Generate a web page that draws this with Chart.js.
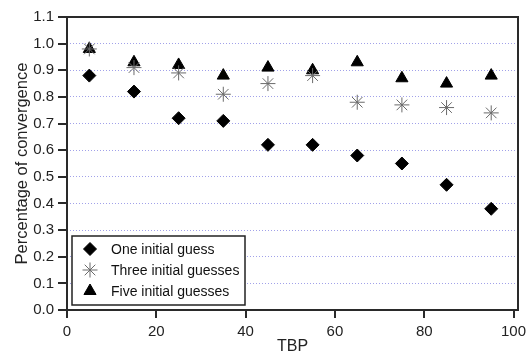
<!DOCTYPE html>
<html>
<head>
<meta charset="utf-8">
<script src="https://cdn.jsdelivr.net/npm/chart.js@4/dist/chart.umd.min.js"></script>
<style>
  html, body { margin: 0; padding: 0; background: #fff; }
  #wrap { width: 532px; height: 354px; }
</style>
</head>
<body>
<div id="wrap"><canvas id="conv" width="532" height="354"></canvas></div>
<script>
// TBP values and convergence rates per number of initial guesses
const tbp = [5, 15, 25, 35, 45, 55, 65, 75, 85, 95];
const oneGuess = [0.88, 0.82, 0.72, 0.71, 0.62, 0.62, 0.58, 0.55, 0.47, 0.38];
const threeGuesses = [0.98, 0.91, 0.89, 0.81, 0.85, 0.88, 0.78, 0.77, 0.76, 0.74];
const fiveGuesses = [0.98, 0.93, 0.92, 0.88, 0.91, 0.90, 0.93, 0.87, 0.85, 0.88];
const seriesNames = ['One initial guess', 'Three initial guesses', 'Five initial guesses'];
const xTicks = [0, 20, 40, 60, 80, 100];

const FONT = '"Liberation Sans", Arial, sans-serif';
const X_TICK_LEN = 8;
const Y_TICK_LEN = 9;

function toPoints(vals) {
    return vals.map(function(v, i) {
        return { x: tbp[i], y: v };
    });
}

// Frame round the plot area, outward tick marks and the boxed legend
const frameAndLegend = {
    id: 'frameAndLegend',
    afterDraw(chart) {
        const ctx = chart.ctx;
        const a = chart.chartArea;
        const xs = chart.scales.x;
        const ys = chart.scales.y;
        ctx.save();
        ctx.strokeStyle = '#2a2a2a';
        ctx.lineWidth = 2;
        ctx.strokeRect(a.left, a.top, a.right - a.left, a.bottom - a.top);

        // tick marks pointing out of the plot
        ctx.beginPath();
        xs.ticks.forEach(function(t) {
            const px = Math.round(xs.getPixelForValue(t.value));
            ctx.moveTo(px, a.bottom);
            ctx.lineTo(px, a.bottom + X_TICK_LEN);
        });
        ys.ticks.forEach(function(t) {
            const py = Math.round(ys.getPixelForValue(t.value));
            ctx.moveTo(a.left, py);
            ctx.lineTo(a.left - Y_TICK_LEN, py);
        });
        ctx.stroke();

        // legend box
        const bx = 72, by = 236, bw = 173, bh = 69;
        ctx.fillStyle = '#fff';
        ctx.fillRect(bx, by, bw, bh);
        ctx.lineWidth = 1.5;
        ctx.strokeStyle = '#222';
        ctx.strokeRect(bx, by, bw, bh);

        ctx.font = '14px ' + FONT;
        ctx.textBaseline = 'middle';
        ctx.textAlign = 'left';
        chart.data.datasets.forEach(function(ds, i) {
            const y = by + 13 + i * 21;
            ctx.save();
            ctx.fillStyle = ds.backgroundColor;
            ctx.strokeStyle = ds.borderColor;
            ctx.lineWidth = ds.borderWidth;
            Chart.helpers.drawPoint(ctx, {
                pointStyle: ds.pointStyle,
                radius: ds.pointRadius,
                borderWidth: ds.borderWidth,
                rotation: 0
            }, 90, y);
            ctx.restore();
            ctx.fillStyle = '#111';
            ctx.fillText(ds.label, 111, y + 1);
        });
        ctx.restore();
    }
};

const config = {
    type: 'scatter',
    data: {
        datasets: [
            {
                label: seriesNames[0],
                data: toPoints(oneGuess),
                pointStyle: 'rectRot',
                pointRadius: 6.5,
                backgroundColor: '#000',
                borderColor: '#000',
                borderWidth: 1,
                order: 3
            },
            {
                label: seriesNames[1],
                data: toPoints(threeGuesses),
                pointStyle: 'star',
                pointRadius: 7.5,
                backgroundColor: '#777',
                borderColor: '#6a6a6a',
                borderWidth: 1,
                order: 1
            },
            {
                label: seriesNames[2],
                data: toPoints(fiveGuesses),
                pointStyle: 'triangle',
                pointRadius: 7,
                backgroundColor: '#000',
                borderColor: '#000',
                borderWidth: 1,
                order: 2
            }
        ]
    },
    options: {
        responsive: false,
        animation: false,
        events: [],
        layout: {
            padding: { left: 0, right: 14, top: 17, bottom: 0 }
        },
        plugins: {
            legend: { display: false },
            tooltip: { enabled: false }
        },
        scales: {
            x: {
                type: 'linear',
                min: 0,
                max: 101,
                afterBuildTicks: function(scale) {
                    scale.ticks = xTicks.map(function(v) { return { value: v }; });
                },
                afterFit: function(scale) {
                    scale.height = 44;
                },
                grid: {
                    drawOnChartArea: false,
                    drawTicks: true,
                    tickLength: X_TICK_LEN,
                    tickColor: 'rgba(0,0,0,0)'
                },
                border: { display: false },
                ticks: {
                    padding: 5,
                    color: '#222',
                    maxRotation: 0,
                    font: { family: FONT, size: 15 }
                },
                title: {
                    display: true,
                    text: 'TBP',
                    color: '#222',
                    padding: { top: 0, bottom: -2 },
                    font: { family: FONT, size: 16 }
                }
            },
            y: {
                min: 0,
                max: 1.1,
                afterFit: function(scale) {
                    scale.width = 67;
                },
                grid: {
                    color: function(c) {
                        const v = c.tick ? c.tick.value : 0;
                        return (v < 0.05 || v > 1.05) ? 'rgba(0,0,0,0)' : 'rgba(130,130,225,0.75)';
                    },
                    lineWidth: 1,
                    drawTicks: true,
                    tickLength: Y_TICK_LEN,
                    tickColor: 'rgba(0,0,0,0)'
                },
                border: { display: false, dash: [1, 2] },
                ticks: {
                    stepSize: 0.1,
                    padding: 4,
                    color: '#222',
                    font: { family: FONT, size: 15 },
                    callback: function(v) { return Number(v).toFixed(1); }
                },
                title: {
                    display: true,
                    text: 'Percentage of convergence',
                    color: '#222',
                    padding: { top: 13, bottom: 0 },
                    font: { family: FONT, size: 16.5 }
                }
            }
        }
    },
    plugins: [frameAndLegend]
};

new Chart(document.getElementById('conv').getContext('2d'), config);
</script>
</body>
</html>
